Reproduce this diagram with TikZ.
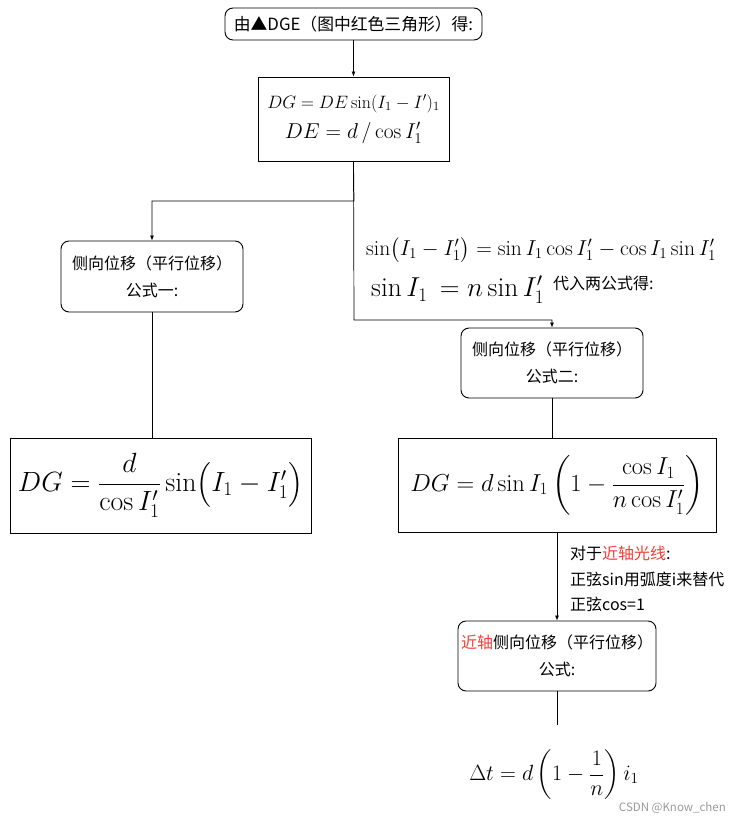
\RequirePackage{fix-cm}
\documentclass[tikz,border=0pt]{standalone}
\usepackage{amsmath}
\usepackage{fontspec}
\newfontfamily\cjk{Noto Sans CJK SC}
\usetikzlibrary{arrows.meta,calc}
\definecolor{hl}{RGB}{245,62,52}
\begin{document}
\begin{tikzpicture}[x=1pt,y=-1pt,
  rbox/.style={draw,line width=0.9pt,rounded corners=8pt,inner sep=0pt,align=center,font=\cjk\fontsize{16}{27}\selectfont},
  sbox/.style={draw,line width=0.9pt,inner sep=0pt,align=center},
  conn/.style={line width=0.7pt},
  arr/.style={conn,-{Latex[length=5pt,width=4pt]}},
  cjktext/.style={inner sep=0pt,anchor=west,font=\cjk\fontsize{16}{18}\selectfont}]
\useasboundingbox (0,0) rectangle (741,821);
\node[rbox,minimum width=257pt,minimum height=32pt,font=\cjk\fontsize{16.8}{20}\selectfont] (b1) at (353.5,24) {由▲DGE（图中红色三角形）得:};
\node[sbox,minimum width=191pt,minimum height=84pt,font=\fontsize{17.9}{32}\selectfont] (b2) at (353.5,119) {$DG=DE\sin(I_1-I')_1$\\[-2pt]{\fontsize{21.5}{24}\selectfont$DE=d\,/\cos I_1'$}};
\node[rbox,minimum width=182pt,minimum height=71pt] (b3) at (152,276.5) {侧向位移（平行位移）\\公式一:};
\node[rbox,minimum width=182pt,minimum height=70pt] (b4) at (552,363) {侧向位移（平行位移）\\公式二:};
\node[sbox,minimum width=301pt,minimum height=95pt,font=\fontsize{27.8}{32}\selectfont] (b5) at (160.5,485.5) {$DG=\dfrac{d}{\cos I_1'}\sin\bigl(I_1-I_1'\bigr)$};
\node[sbox,minimum width=318pt,minimum height=94pt,font=\fontsize{24.5}{28}\selectfont] (b6) at (557,485) {$DG=d\sin I_1\left(1-\dfrac{\cos I_1}{n\cos I_1'}\right)$};
\node[rbox,minimum width=198pt,minimum height=70pt] (b7) at (557,656) {\textcolor{hl}{近轴}侧向位移（平行位移）\\公式:};
\node[inner sep=0pt,font=\fontsize{22}{26}\selectfont] (f) at (554,775) {$\Delta t=d\left(1-\dfrac{1}{n}\right)i_1$};
\node[inner sep=0pt,anchor=west,font=\fontsize{21.6}{24}\selectfont] (m1) at (366,250) {$\sin\bigl(I_1-I_1'\bigr)=\sin I_1\cos I_1'-\cos I_1\sin I_1'$};
\node[inner sep=0pt,anchor=west,font=\fontsize{27.4}{30}\selectfont] (m2) at (371,290) {$\sin I_1\,=n\sin I_1'$};
\node[cjktext] (m3) at (553,283) {代入两公式得:};
\node[cjktext] (n1) at (570,553) {对于\textcolor{hl}{近轴光线}:};
\node[cjktext] (n2) at (570,579) {正弦sin用弧度i来替代};
\node[cjktext] (n3) at (570,604) {正弦cos=1};
\node[inner sep=0pt,anchor=east,text=gray!80,font=\cjk\fontsize{11.5}{13}\selectfont] (wm) at (726,808) {CSDN @Know\_chen};
\coordinate (j1) at (354,201);
\coordinate (j2) at (354,320);
\coordinate (e) at (557,725);
\draw[arr] (b1.south) -- (b2.north);
\draw[arr] (b2.south) -- (j1) -| (b3.north);
\draw[arr] (b2.south) -- (j2) -| (b4.north);
\draw[conn] (b3.south) -- (b3.south |- b5.north);
\draw[conn] (b4.south) -- (b4.south |- b6.north);
\draw[arr] (b7.north |- b6.south) -- (b7.north);
\draw[conn] (b7.south) -- (e);
\end{tikzpicture}
\end{document}
